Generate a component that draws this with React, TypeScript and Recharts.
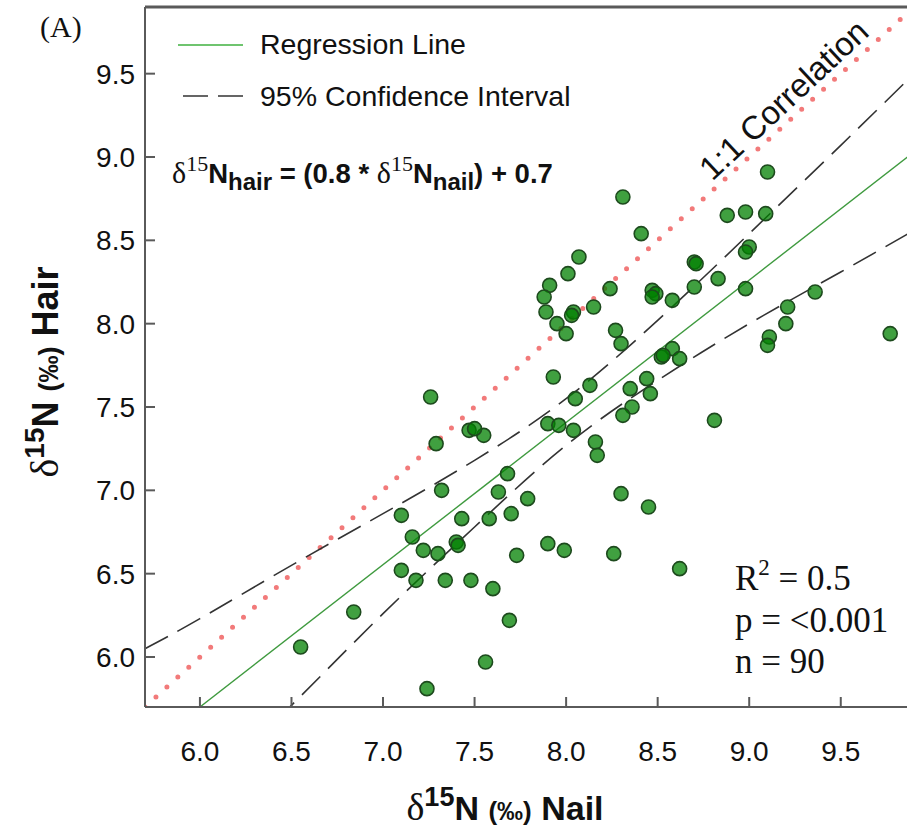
import { ComposedChart, Line, Scatter, XAxis, YAxis, ReferenceLine } from 'recharts';

// d15N nail (x) vs hair (y)
const nail = [
  8.31, 8.41, 8.07, 8.01, 7.91, 7.88, 7.89, 7.95, 8.0, 8.04, 8.03, 8.15, 8.24, 8.27, 8.3,
  8.47, 8.49, 8.47, 8.58, 8.7, 8.71, 8.7, 8.83, 8.88, 8.98, 9.09, 9.0, 8.98, 8.98, 9.36,
  9.21, 9.2, 9.11, 9.1, 9.77, 8.58, 8.52, 8.53, 8.62, 8.44, 8.35, 8.46, 8.36, 8.31, 7.93,
  8.13, 8.05, 7.9, 7.96, 8.04, 8.16, 8.17, 7.68, 7.55, 8.81, 7.26, 7.47, 7.5, 7.29, 7.32,
  7.63, 7.1, 7.43, 7.58, 7.16, 7.22, 7.3, 7.4, 7.41, 7.1, 7.18, 7.34, 7.48, 7.6, 6.84,
  6.55, 7.56, 7.24, 7.7, 7.79, 7.73, 7.69, 7.9, 7.99, 8.26, 8.3, 8.45, 8.62, 9.1,
];
const hair = [
  8.76, 8.54, 8.4, 8.3, 8.23, 8.16, 8.07, 8.0, 7.94, 8.07, 8.05, 8.1, 8.21, 7.96, 7.88,
  8.2, 8.18, 8.16, 8.14, 8.37, 8.36, 8.22, 8.27, 8.65, 8.67, 8.66, 8.46, 8.43, 8.21, 8.19,
  8.1, 8.0, 7.92, 7.87, 7.94, 7.85, 7.8, 7.81, 7.79, 7.67, 7.61, 7.58, 7.5, 7.45, 7.68,
  7.63, 7.55, 7.4, 7.39, 7.36, 7.29, 7.21, 7.1, 7.33, 7.42, 7.56, 7.36, 7.37, 7.28, 7.0,
  6.99, 6.85, 6.83, 6.83, 6.72, 6.64, 6.62, 6.69, 6.67, 6.52, 6.46, 6.46, 6.46, 6.41, 6.27,
  6.06, 5.97, 5.81, 6.86, 6.95, 6.61, 6.22, 6.68, 6.64, 6.62, 6.98, 6.9, 6.53, 8.91,
];

const xTicks = [6.0, 6.5, 7.0, 7.5, 8.0, 8.5, 9.0, 9.5];
const yTicks = [6.0, 6.5, 7.0, 7.5, 8.0, 8.5, 9.0, 9.5];

// regression line as drawn
const regX = [6.0, 9.9];
const regY = [5.7, 9.03];

// 1:1 line
const oneX = [5.7, 9.9];
const oneY = [5.7, 9.9];

// 95% confidence band
const ciX = [5.7, 6.0, 6.5, 7.0, 7.5, 8.0, 8.5, 9.0, 9.5, 9.9];
const ciUpper = [6.05, 6.23, 6.55, 6.86, 7.18, 7.55, 8.02, 8.54, 9.07, 9.5];
const ciLower = [4.83, 5.17, 5.71, 6.26, 6.78, 7.27, 7.66, 8.0, 8.31, 8.56];

const points = nail.map((x, i) => ({ x, y: hair[i] }));
const regData = regX.map((x, i) => ({ x, y: regY[i] }));
const oneData = oneX.map((x, i) => ({ x, y: oneY[i] }));
const upperData = ciX.map((x, i) => ({ x, y: ciUpper[i] }));
const lowerData = ciX.map((x, i) => ({ x, y: ciLower[i] }));

const SANS = 'Liberation Sans, Arial, sans-serif';
const SERIF = 'Liberation Serif, Times New Roman, serif';
const AXIS = '#5a5a5a';

const Dot = (p: any) => (
  <circle cx={p.cx} cy={p.cy} r={7} fill="#008000" fillOpacity={0.75} stroke="#1d4a1d" strokeWidth={1.6} />
);

const tickStyle = { fill: '#111', fontSize: 28, fontFamily: SANS };

export default function App() {
  return (
    <div style={{ position: 'absolute', left: 0, top: 0, width: 907, height: 833, overflow: 'hidden', background: '#fff' }}>
      <ComposedChart width={915} height={833} margin={{ top: 7, right: 1, left: 0, bottom: 0 }}>
        <XAxis
          type="number"
          dataKey="x"
          domain={[5.7, 9.9]}
          ticks={xTicks}
          allowDataOverflow
          height={126}
          tickSize={-10}
          tickMargin={44}
          tickFormatter={(v: number) => v.toFixed(1)}
          tick={tickStyle}
          axisLine={{ stroke: AXIS, strokeWidth: 2 }}
          tickLine={{ stroke: AXIS, strokeWidth: 2 }}
        />
        <YAxis
          type="number"
          dataKey="y"
          domain={[5.7, 9.9]}
          ticks={yTicks}
          allowDataOverflow
          width={145}
          tickSize={-10}
          tickMargin={20}
          tickFormatter={(v: number) => v.toFixed(1)}
          tick={tickStyle}
          axisLine={{ stroke: AXIS, strokeWidth: 2 }}
          tickLine={{ stroke: AXIS, strokeWidth: 2 }}
        />
        <ReferenceLine y={9.9} stroke={AXIS} strokeWidth={3} />
        <Line
          data={oneData}
          dataKey="y"
          type="linear"
          stroke="#f27a7a"
          strokeWidth={5}
          strokeDasharray="0 14.8"
          strokeLinecap="round"
          dot={false}
          isAnimationActive={false}
        />
        <Line data={upperData} dataKey="y" type="natural" stroke="#333" strokeWidth={1.6} strokeDasharray="26 11" dot={false} isAnimationActive={false} />
        <Line data={lowerData} dataKey="y" type="natural" stroke="#333" strokeWidth={1.6} strokeDasharray="26 11" dot={false} isAnimationActive={false} />
        <Line data={regData} dataKey="y" type="linear" stroke="#3f9a3f" strokeWidth={1.4} dot={false} isAnimationActive={false} />
        <Scatter data={points} dataKey="y" shape={Dot} isAnimationActive={false} />
      </ComposedChart>

      <svg width={907} height={833} style={{ position: 'absolute', left: 0, top: 0, pointerEvents: 'none' }}>
        <text x={40} y={37} fontFamily={SERIF} fontSize={30} fill="#111">(A)</text>

        {/* legend */}
        <line x1={178} y1={45} x2={243} y2={45} stroke="#3fb03f" strokeWidth={1.5} />
        <text x={260} y={54} fontFamily={SANS} fontSize={28.5} fill="#111">Regression Line</text>
        <line x1={183} y1={96} x2={243} y2={96} stroke="#333" strokeWidth={1.6} strokeDasharray="25 10" />
        <text x={260} y={106} fontFamily={SANS} fontSize={28.5} fill="#111">95% Confidence Interval</text>

        {/* equation */}
        <text x={172} y={183} fontFamily={SANS} fontWeight="bold" fontSize={27.5} fill="#111">
          <tspan fontFamily={SERIF} fontWeight="normal" fontSize={30}>δ</tspan>
          <tspan fontFamily={SERIF} fontWeight="normal" fontSize={22} dy={-12}>15</tspan>
          <tspan dy={12}>N</tspan>
          <tspan fontSize={24} dy={7}>hair</tspan>
          <tspan dy={-7}> = (0.8 * </tspan>
          <tspan fontFamily={SERIF} fontWeight="normal" fontSize={30}>δ</tspan>
          <tspan fontFamily={SERIF} fontWeight="normal" fontSize={22} dy={-12}>15</tspan>
          <tspan dy={12}>N</tspan>
          <tspan fontSize={24} dy={7}>nail</tspan>
          <tspan dy={-7}>) + 0.7</tspan>
        </text>

        {/* 1:1 label */}
        <text
          x={784}
          y={111}
          transform="rotate(-43 784 100)"
          textAnchor="middle"
          fontFamily={SANS}
          fontSize={33}
          fill="#111"
        >
          1:1 Correlation
        </text>

        {/* stats */}
        <text x={735} y={590} fontFamily={SERIF} fontSize={35} fill="#111">
          R<tspan fontSize={23} dy={-15}>2</tspan><tspan dy={15}> = 0.5</tspan>
        </text>
        <text x={735} y={632} fontFamily={SERIF} fontSize={35} fill="#111">p = &lt;0.001</text>
        <text x={735} y={673} fontFamily={SERIF} fontSize={35} fill="#111">n = 90</text>

        {/* axis titles */}
        <text x={505} y={820} textAnchor="middle" fontFamily={SANS} fontWeight="bold" fontSize={34} fill="#111">
          <tspan fontFamily={SERIF} fontWeight="normal" fontSize={38}>δ</tspan>
          <tspan fontSize={27} dy={-14}>15</tspan>
          <tspan dy={14}>N </tspan>
          <tspan fontSize={26}>(‰)</tspan>
          <tspan> Nail</tspan>
        </text>
        <text
          x={46}
          y={372}
          transform="rotate(-90 46 372)"
          textAnchor="middle"
          dy={12}
          fontFamily={SANS}
          fontWeight="bold"
          fontSize={36}
          fill="#111"
        >
          <tspan fontFamily={SERIF} fontWeight="normal" fontSize={40}>δ</tspan>
          <tspan fontSize={28} dy={-14}>15</tspan>
          <tspan dy={14}>N </tspan>
          <tspan fontSize={27}>(‰)</tspan>
          <tspan> Hair</tspan>
        </text>
      </svg>
    </div>
  );
}
